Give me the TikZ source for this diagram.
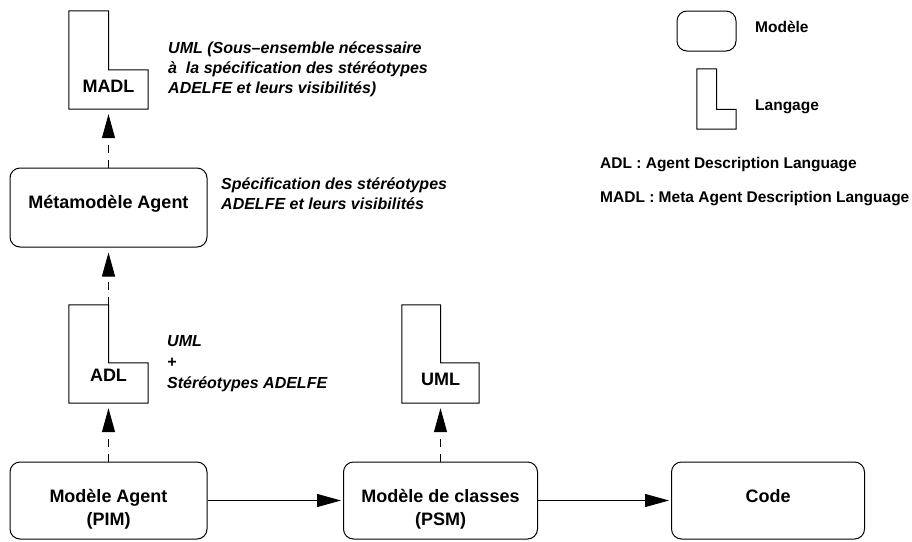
\documentclass[tikz,border=0pt]{standalone}
\usepackage{fontspec}
\setmainfont{Liberation Sans}
\usetikzlibrary{arrows.meta,calc}
\tikzset{
  x=1pt, y=-1pt,
  model/.style={draw, line width=1pt, rounded corners=10pt, inner sep=0pt},
  langbox/.style={inner sep=0pt},
  lline/.style={line width=1pt},
  ntext/.style={font=\fontsize{18}{22}\selectfont\bfseries, inner sep=0pt, anchor=base},
  itext/.style={font=\fontsize{16}{19.5}\selectfont\bfseries\itshape, inner sep=0pt, anchor=base west},
  ltext/.style={font=\fontsize{15.5}{19}\selectfont\bfseries, inner sep=0pt, anchor=base west},
  dep/.style={dash pattern=on 8pt off 7pt, line width=1pt, -{Triangle[length=24pt,width=13pt]}, shorten >=5pt},
  flow/.style={line width=1pt, -{Triangle[length=24pt,width=13pt]}, shorten >=2pt},
}
\newcommand\drawlang[2]{\draw[lline] (#1.north west) -- (#1.north) -- ($(#1.north)!#2!(#1.south)$) -- ($(#1.north east)!#2!(#1.south east)$) -- (#1.south east) -- (#1.south west) -- cycle;}
\begin{document}
\begin{tikzpicture}
\useasboundingbox (0,0) rectangle (912,541);

% language shapes
\node[langbox, minimum width=79pt, minimum height=98pt] (madl) at (108.5,60) {};
\drawlang{madl}{0.6}
\node[ntext] (madlt) at (108.5,92) {MADL};

\node[langbox, minimum width=79pt, minimum height=98pt] (adl) at (108.5,354) {};
\drawlang{adl}{0.59}
\node[ntext] (adlt) at (108.5,381) {ADL};

\node[langbox, minimum width=77pt, minimum height=98pt] (uml) at (440.5,354) {};
\drawlang{uml}{0.59}
\node[ntext] (umlt) at (440.5,385) {UML};

% model boxes
\node[model, minimum width=197pt, minimum height=79pt] (meta) at (108.5,207.5) {};
\node[ntext] (metat) at (108.5,208) {Métamodèle Agent};

\node[model, minimum width=197pt, minimum height=77pt] (pim) at (108.5,500.5) {};
\node[ntext] (pimt1) at (108.5,502.5) {Modèle Agent};
\node[ntext] (pimt2) at (108.5,525.5) {(PIM)};

\node[model, minimum width=194pt, minimum height=77pt] (psm) at (440.5,500.5) {};
\node[ntext] (psmt1) at (440.5,502.5) {Modèle de classes};
\node[ntext] (psmt2) at (440.5,525.5) {(PSM)};

\node[model, minimum width=193pt, minimum height=77pt] (code) at (768,500.5) {};
\node[ntext] (codet) at (768,502) {Code};

% italic notes
\node[itext] (n1a) at (168,53) {UML (Sous--ensemble nécessaire};
\node[itext] (n1b) at (168,73) {à\ \ la spécification des stéréotypes};
\node[itext] (n1c) at (168,93) {ADELFE et leurs visibilités)};

\node[itext] (n2a) at (221,189.5) {Spécification des stéréotypes};
\node[itext] (n2b) at (221,209) {ADELFE et leurs visibilités};

\node[itext] (n3a) at (167,346) {UML};
\node[itext] (n3b) at (167,367) {+};
\node[itext] (n3c) at (167,388) {Stéréotypes ADELFE};

% legend
\node[model, minimum width=59pt, minimum height=40pt] (legm) at (706.5,31) {};
\node[ltext] (legmt) at (755,32.5) {Modèle};
\node[langbox, minimum width=39pt, minimum height=60pt] (legl) at (716.5,99) {};
\drawlang{legl}{0.67}
\node[ltext] (leglt) at (755,110) {Langage};
\node[ltext] (adldef) at (600,168.5) {ADL : Agent Description Language};
\node[ltext] (madldef) at (600,202.5) {MADL : Meta Agent Description Language};

% connectors
\draw[dep] (meta.north) -- (madl.south);
\draw[dep] (adl.north) -- (meta.south);
\draw[dep] (pim.north) -- (adl.south);
\draw[dep] (psm.north) -- (uml.south);
\draw[flow] (pim.east) -- (psm.west);
\draw[flow] (psm.east) -- (code.west);
\end{tikzpicture}
\end{document}
